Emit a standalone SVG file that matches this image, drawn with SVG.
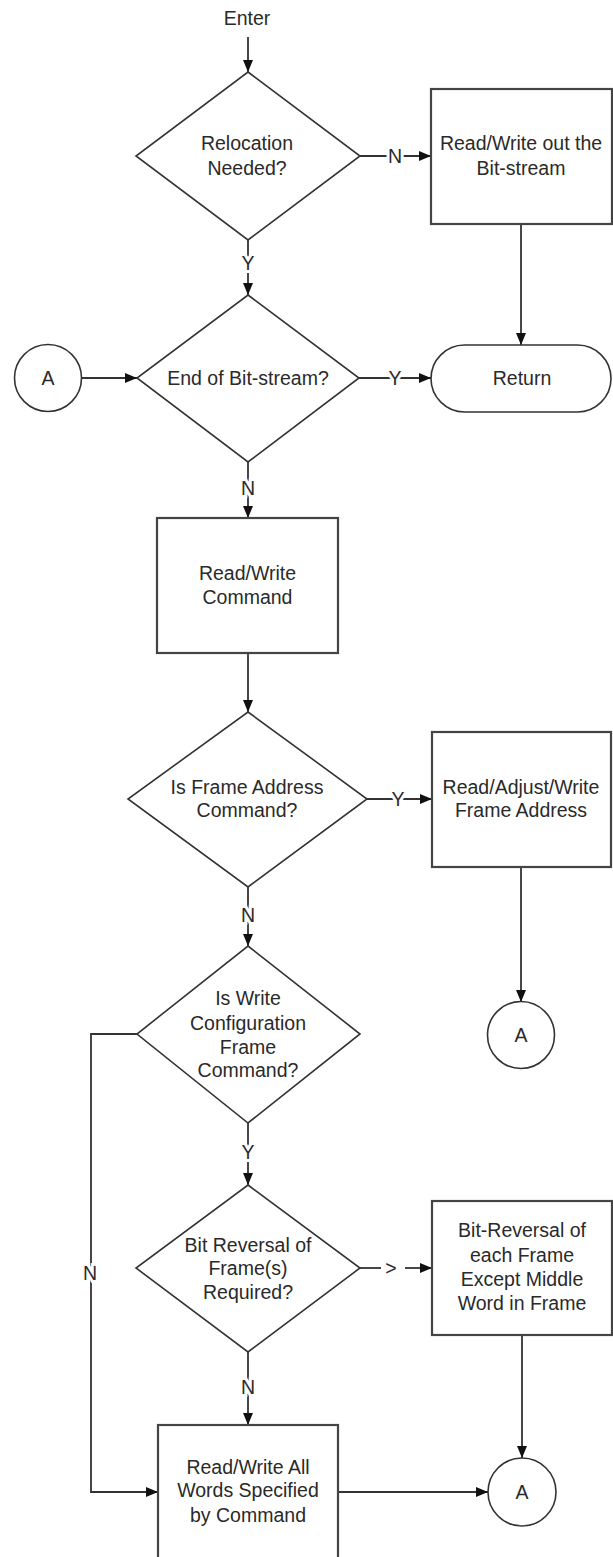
<svg xmlns="http://www.w3.org/2000/svg" width="613" height="1557" viewBox="0 0 613 1557">
<defs>
<marker id="ah" markerUnits="userSpaceOnUse" markerWidth="12" markerHeight="10" refX="12" refY="5" orient="auto">
<path d="M0,0 L12,5 L0,10 z" fill="#111"/>
</marker>
<style>
.shape{fill:#fff;stroke:#333;stroke-width:1.6}
.box{fill:#fff;stroke:#444;stroke-width:2.2}
.t{font-family:"Liberation Sans",Arial,sans-serif;font-size:19.5px;fill:#2a2a2a;text-anchor:middle;dominant-baseline:central}
.lbl{font-family:"Liberation Sans",Arial,sans-serif;font-size:19.5px;fill:#2a2a2a;text-anchor:middle;dominant-baseline:central;stroke:#fff;stroke-width:6;paint-order:stroke}
.c{fill:none;stroke:#333;stroke-width:1.8}
.ca{fill:none;stroke:#333;stroke-width:1.8;marker-end:url(#ah)}
</style>
</defs>
<rect width="613" height="1557" fill="#fff"/>
<g id="connectors">
<path class="ca" d="M248,37 V72"/>
<path class="ca" d="M360,156 H431"/>
<path class="ca" d="M248,240 V295"/>
<path class="ca" d="M521,224 V345"/>
<path class="ca" d="M82,378 H137"/>
<path class="ca" d="M359,378 H431"/>
<path class="ca" d="M248,462 V518"/>
<path class="ca" d="M248,653 V712"/>
<path class="ca" d="M367,799 H432"/>
<path class="ca" d="M248,887 V946"/>
<path class="ca" d="M521,867 V1002"/>
<path class="ca" d="M248,1123 V1185"/>
<path class="c" d="M360,1268 H381"/>
<path class="ca" d="M405,1268 H432"/>
<path class="ca" d="M248,1352 V1425"/>
<path class="ca" d="M137,1034 H91 V1492 H158"/>
<path class="ca" d="M522,1335 V1458"/>
<path class="ca" d="M338,1492 H488"/>
<text class="lbl" x="395" y="156">N</text>
<text class="lbl" x="248" y="263">Y</text>
<text class="lbl" x="395" y="378">Y</text>
<text class="lbl" x="248" y="488">N</text>
<text class="lbl" x="398" y="799">Y</text>
<text class="lbl" x="248" y="915">N</text>
<text class="lbl" x="248" y="1152">Y</text>
<text class="lbl" x="391" y="1268">&gt;</text>
<text class="lbl" x="248" y="1387">N</text>
<text class="lbl" x="90" y="1273">N</text>
</g>
<g id="enter">
<text class="t" x="247" y="18">Enter</text>
</g>
<g id="d-relocation">
<polygon class="shape" points="248,72 360,156 248,240 136,156"/>
<text class="t" x="247" y="143">Relocation</text>
<text class="t" x="247" y="168">Needed?</text>
</g>
<g id="r-readwrite-out">
<rect class="box" x="431" y="89" width="181" height="135"/>
<text class="t" x="521" y="143">Read/Write out the</text>
<text class="t" x="521" y="168">Bit-stream</text>
</g>
<g id="c-a1">
<circle class="shape" cx="48" cy="378" r="33.5"/>
<text class="t" x="48" y="378">A</text>
</g>
<g id="d-end">
<polygon class="shape" points="248,295 359,378 248,462 137,378"/>
<text class="t" x="248" y="378">End of Bit-stream?</text>
</g>
<g id="t-return">
<rect class="shape" x="431" y="345" width="180" height="67" rx="33.5" ry="33.5"/>
<text class="t" x="522" y="378">Return</text>
</g>
<g id="r-command">
<rect class="box" x="157" y="518" width="181" height="135"/>
<text class="t" x="247.5" y="573">Read/Write</text>
<text class="t" x="247.5" y="597">Command</text>
</g>
<g id="d-frame-address">
<polygon class="shape" points="248,712 367,799 248,887 128,799"/>
<text class="t" x="247" y="787">Is Frame Address</text>
<text class="t" x="247" y="810">Command?</text>
</g>
<g id="r-adjust">
<rect class="box" x="432" y="732" width="179" height="135"/>
<text class="t" x="521" y="787">Read/Adjust/Write</text>
<text class="t" x="521" y="810">Frame Address</text>
</g>
<g id="d-write-config">
<polygon class="shape" points="248,946 360,1034 248,1123 137,1034"/>
<text class="t" x="248" y="998">Is Write</text>
<text class="t" x="248" y="1023">Configuration</text>
<text class="t" x="248" y="1047">Frame</text>
<text class="t" x="248" y="1070">Command?</text>
</g>
<g id="c-a2">
<circle class="shape" cx="521" cy="1035" r="33.5"/>
<text class="t" x="521" y="1035">A</text>
</g>
<g id="d-bit-reversal">
<polygon class="shape" points="248,1185 360,1268 248,1352 136,1268"/>
<text class="t" x="248" y="1245">Bit Reversal of</text>
<text class="t" x="248" y="1268">Frame(s)</text>
<text class="t" x="248" y="1292">Required?</text>
</g>
<g id="r-bit-reversal">
<rect class="box" x="432" y="1201" width="180" height="134"/>
<text class="t" x="522" y="1230">Bit-Reversal of</text>
<text class="t" x="522" y="1255">each Frame</text>
<text class="t" x="522" y="1279">Except Middle</text>
<text class="t" x="522" y="1303">Word in Frame</text>
</g>
<g id="r-all-words">
<rect class="box" x="158" y="1425" width="180" height="150"/>
<text class="t" x="248" y="1467">Read/Write All</text>
<text class="t" x="248" y="1490">Words Specified</text>
<text class="t" x="248" y="1515">by Command</text>
</g>
<g id="c-a3">
<circle class="shape" cx="522" cy="1492" r="34"/>
<text class="t" x="522" y="1492">A</text>
</g>
</svg>
